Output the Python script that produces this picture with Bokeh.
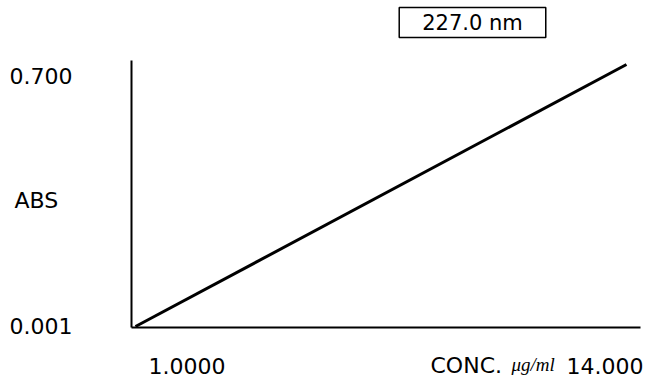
from bokeh.plotting import figure
from bokeh.models import Range1d, Label
from bokeh.embed import file_html
from bokeh.resources import INLINE

# data
conc = [1.0, 14.0]
absorbance = [0.001, 0.700]
x_tick_labels = ["1.0000", "14.000"]
y_tick_labels = ["0.700", "0.001"]
x_title = "CONC."
x_unit = "\u03bcg/ml"
y_title = "ABS"
wavelength = "227.0 nm"

W, H = 647, 380

# pixel scale of the original: x=1 at px 135, x=14 at px 626; y=0.001 at py 326, y=0.700 at py 64
sx = (626 - 135) / (conc[1] - conc[0])
sy = (326 - 64) / (absorbance[1] - absorbance[0])

p = figure(width=W, height=H, output_backend="svg", toolbar_location=None,
           x_range=Range1d(conc[0] - 135 / sx, conc[1] + (W - 626) / sx),
           y_range=Range1d(absorbance[0] - (H - 326) / sy, absorbance[0] + 326 / sy),
           min_border=0)
p.outline_line_color = None
p.grid.visible = False
p.xaxis.visible = False
p.yaxis.visible = False
p.background_fill_color = "white"
p.border_fill_color = "white"

xr, yr = p.x_range, p.y_range
def px(x):
    return xr.start + x / W * (xr.end - xr.start)
def py(y):
    return yr.end - y / H * (yr.end - yr.start)

# axis lines
p.line([px(131), px(131)], [py(60), py(327)], line_color="black", line_width=2)
p.line([px(131), px(640)], [py(327), py(327)], line_color="black", line_width=2)

# calibration line
p.line(conc, absorbance, line_color="black", line_width=3)

FONT = "DejaVu Sans"
def lab(text, x, y, size="22px", font=FONT, style="normal", align="left", **kw):
    p.add_layout(Label(x=px(x), y=py(y), text=text, text_font=font, text_font_size=size,
                       text_font_style=style, text_align=align, text_baseline="middle",
                       text_color="black", **kw))

lab(y_tick_labels[0], 9, 75)
lab(y_tick_labels[1], 9, 325)
lab(y_title, 14, 200)
lab(x_tick_labels[0], 148, 365)
lab(x_title, 430, 365)
lab(x_unit, 511, 364, size="19px", font="Liberation Serif", style="italic")
lab(x_tick_labels[1], 566, 365)
lab(wavelength, 472, 22, size="21px", align="center", border_line_color="black",
    border_line_width=1.5, background_fill_color="white", padding=(23, 3))

open("out.html", "w").write(file_html(p, INLINE))
